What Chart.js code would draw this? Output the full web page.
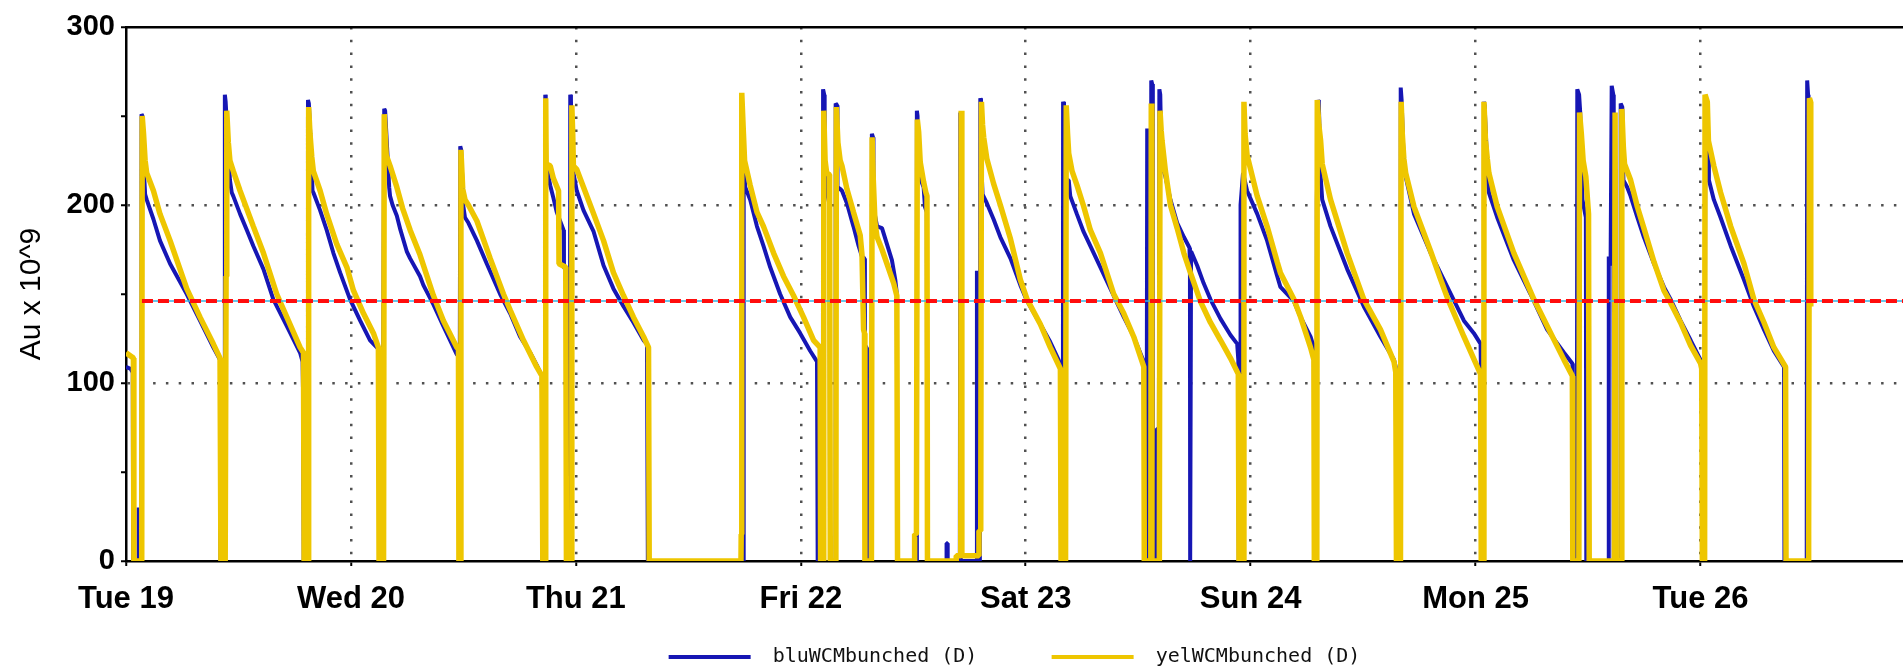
<!DOCTYPE html>
<html>
<head>
<meta charset="utf-8">
<title>WCM bunched intensity</title>
<script src="https://cdn.jsdelivr.net/npm/chart.js@4.4.1/dist/chart.umd.min.js"></script>
<style>
  html, body { margin: 0; padding: 0; background: #fff; }
  canvas { display: block; }
</style>
</head>
<body>
<canvas id="wcm-canvas" width="1903" height="669"></canvas>
<script>
const DAY_LABELS = ['Tue 19', 'Wed 20', 'Thu 21', 'Fri 22', 'Sat 23', 'Sun 24', 'Mon 25', 'Tue 26'];
const SERIES_NAMES = ['bluWCMbunched (D)', 'yelWCMbunched (D)'];
const X_MAX = 7.9;

// [days since Tue 19 00:00, Au x 10^9]
const bluWCM = [
  [0, 109], [0.02, 108], [0.03, 106], [0.032, 0],
  [0.054, 0], [0.055, 30], [0.057, 0],
  [0.068, 0], [0.069, 251], [0.073, 250], [0.08, 218], [0.085, 206], [0.092, 203], [0.122, 192], [0.151, 180], [0.196, 167], [0.27, 150], [0.329, 135], [0.388, 120], [0.418, 113], [0.42, 0],
  [0.438, 0], [0.439, 160], [0.44, 262], [0.443, 258], [0.462, 214], [0.47, 207], [0.477, 205], [0.507, 195], [0.537, 186], [0.566, 177], [0.611, 164], [0.655, 147], [0.715, 132], [0.774, 117], [0.785, 112], [0.787, 96], [0.789, 16], [0.791, 0],
  [0.808, 0], [0.809, 259], [0.813, 257], [0.826, 221], [0.829, 208], [0.833, 207], [0.863, 197], [0.892, 186], [0.922, 173], [0.952, 162], [0.996, 147],
  [1.041, 135], [1.085, 124], [1.115, 120], [1.125, 119], [1.128, 15], [1.14, 15],
  [1.148, 254], [1.152, 253], [1.17, 210], [1.174, 205], [1.185, 200], [1.204, 194], [1.22, 186], [1.248, 174], [1.263, 170], [1.307, 160], [1.322, 155], [1.367, 144], [1.411, 132], [1.471, 116], [1.48, 115], [1.483, 55],
  [1.486, 233], [1.49, 231], [1.5, 199], [1.507, 193], [1.522, 190], [1.56, 180], [1.604, 167], [1.663, 150], [1.708, 139], [1.752, 126], [1.797, 117], [1.826, 110], [1.849, 104], [1.852, 0],
  [1.862, 0], [1.864, 262], [1.866, 260], [1.868, 223], [1.878, 216], [1.886, 211], [1.9, 204], [1.915, 196], [1.945, 186], [1.947, 165], [1.958, 163], [1.96, 0],
  [1.973, 0], [1.975, 262], [1.978, 260], [1.982, 221], [1.989, 218],
  [2.004, 208], [2.034, 197], [2.079, 185], [2.123, 166], [2.167, 153], [2.212, 143], [2.256, 134], [2.301, 124], [2.316, 122], [2.32, 0],
  [2.744, 0], [2.746, 243], [2.748, 219], [2.753, 210], [2.775, 203], [2.805, 188], [2.834, 177], [2.864, 165], [2.908, 150], [2.953, 137],
  [2.997, 128], [3.042, 118], [3.072, 112], [3.075, 0],
  [3.098, 0], [3.099, 265], [3.104, 262], [3.106, 222], [3.117, 215], [3.12, 205], [3.128, 200], [3.13, 0],
  [3.152, 0], [3.155, 257], [3.161, 256], [3.163, 210], [3.175, 209], [3.183, 208], [3.205, 201], [3.234, 188], [3.257, 177], [3.272, 171], [3.283, 170], [3.285, 121], [3.292, 120], [3.294, 0],
  [3.313, 0], [3.316, 240], [3.321, 238], [3.323, 200], [3.33, 194], [3.339, 188], [3.361, 187], [3.383, 178], [3.405, 169], [3.42, 158], [3.427, 150], [3.429, 0],
  [3.514, 0], [3.516, 253], [3.519, 250], [3.521, 225], [3.531, 215], [3.546, 210], [3.552, 199], [3.56, 196], [3.562, 0],
  [3.647, 0], [3.648, 10], [3.652, 10], [3.653, 0],
  [3.707, 0], [3.709, 252], [3.712, 0],
  [3.781, 0], [3.783, 163], [3.785, 0],
  [3.796, 0], [3.798, 260], [3.801, 258], [3.803, 221], [3.808, 206], [3.827, 201], [3.857, 192], [3.887, 182], [3.932, 170], [3.976, 155],
  [4.006, 146], [4.065, 133], [4.109, 123], [4.146, 113], [4.154, 110], [4.157, 0],
  [4.165, 0], [4.166, 258], [4.17, 256], [4.178, 214], [4.191, 214], [4.198, 205], [4.227, 195], [4.257, 185], [4.287, 177], [4.332, 165], [4.391, 149], [4.436, 137], [4.48, 126], [4.525, 112], [4.527, 0],
  [4.536, 0], [4.538, 75], [4.54, 243], [4.542, 54], [4.545, 16], [4.55, 16], [4.552, 0],
  [4.556, 0], [4.558, 270], [4.562, 268], [4.565, 0],
  [4.58, 0], [4.581, 74], [4.592, 74], [4.594, 265], [4.598, 262], [4.602, 235], [4.606, 222], [4.621, 216], [4.643, 203], [4.673, 190], [4.703, 182], [4.728, 176], [4.73, 163], [4.731, 0], [4.733, 0], [4.735, 174], [4.762, 166], [4.791, 156], [4.821, 147], [4.866, 136], [4.91, 127], [4.94, 122], [4.945, 113], [4.947, 0],
  [4.953, 0], [4.955, 200], [4.966, 218], [4.984, 208],
  [5.029, 195], [5.073, 180], [5.118, 160], [5.132, 154], [5.192, 146], [5.222, 137], [5.266, 126], [5.281, 120], [5.283, 0],
  [5.292, 0], [5.294, 202], [5.3, 259], [5.303, 257], [5.311, 216], [5.318, 203], [5.355, 188], [5.429, 164], [5.503, 143], [5.577, 126], [5.637, 113], [5.645, 109], [5.648, 0],
  [5.665, 0], [5.667, 266], [5.671, 259], [5.681, 221], [5.689, 216], [5.726, 195], [5.8, 173], [5.874, 154], [5.948, 135], [5.992, 128],
  [6.022, 122], [6.024, 105], [6.026, 0],
  [6.035, 0], [6.037, 258], [6.04, 256], [6.052, 221], [6.059, 207], [6.096, 193], [6.17, 169], [6.244, 150], [6.318, 130], [6.393, 117], [6.43, 111], [6.432, 103], [6.434, 0],
  [6.45, 0], [6.452, 265], [6.46, 262], [6.465, 252], [6.475, 203], [6.481, 199], [6.49, 193], [6.492, 0],
  [6.59, 0], [6.592, 171], [6.6, 166], [6.605, 267], [6.612, 262], [6.614, 0], [6.643, 0], [6.645, 257], [6.652, 255], [6.657, 214], [6.674, 210], [6.689, 205], [6.719, 193], [6.748, 182], [6.793, 167], [6.837, 154], [6.867, 147], [6.911, 135], [6.956, 124],
  [7.0, 113], [7.007, 111], [7.009, 0],
  [7.018, 0], [7.021, 258], [7.034, 225], [7.037, 214], [7.059, 203], [7.089, 193], [7.134, 177], [7.193, 158], [7.237, 143], [7.282, 130], [7.326, 118], [7.371, 109], [7.373, 0],
  [7.47, 0], [7.472, 17], [7.474, 270], [7.478, 262], [7.48, 149], [7.484, 145],
];

const yelWCM = [
  [0, 117], [0.033, 114], [0.035, 0],
  [0.07, 0], [0.072, 250], [0.078, 240], [0.085, 225], [0.092, 218], [0.122, 208], [0.151, 195], [0.196, 180], [0.27, 153], [0.329, 137], [0.388, 122], [0.418, 114], [0.422, 0],
  [0.441, 0], [0.445, 160], [0.448, 253], [0.455, 235], [0.462, 225], [0.477, 219], [0.507, 208], [0.566, 188], [0.611, 173], [0.67, 150], [0.715, 137], [0.774, 120], [0.789, 117], [0.792, 0],
  [0.81, 0], [0.812, 255], [0.818, 240], [0.826, 227], [0.833, 219], [0.863, 208], [0.892, 195], [0.937, 178], [0.982, 165],
  [1.011, 152], [1.056, 139], [1.1, 128], [1.122, 120], [1.125, 0],
  [1.145, 0], [1.148, 251], [1.157, 228], [1.174, 222], [1.204, 210], [1.23, 198], [1.263, 186], [1.307, 172], [1.367, 149], [1.411, 135], [1.471, 120], [1.478, 119], [1.48, 0],
  [1.487, 0], [1.489, 231], [1.497, 209], [1.507, 203], [1.522, 200], [1.56, 191], [1.619, 170], [1.678, 150], [1.708, 141], [1.767, 124], [1.826, 109], [1.849, 104], [1.853, 0],
  [1.863, 0], [1.866, 260], [1.868, 223], [1.886, 222], [1.9, 215], [1.923, 208], [1.925, 167], [1.955, 165], [1.958, 0],
  [1.979, 0], [1.982, 256], [1.986, 240], [1.989, 222],
  [2.004, 220], [2.034, 210], [2.079, 195], [2.123, 180], [2.167, 162], [2.212, 149], [2.256, 137], [2.301, 126], [2.323, 120], [2.326, 0],
  [2.734, 0], [2.735, 15], [2.737, 15], [2.738, 263], [2.745, 240], [2.75, 225], [2.775, 211], [2.805, 196], [2.834, 188], [2.879, 173], [2.923, 160], [2.968, 149],
  [3.012, 137], [3.057, 124], [3.086, 120], [3.088, 0],
  [3.099, 0], [3.102, 253], [3.108, 225], [3.115, 218], [3.128, 217], [3.131, 0],
  [3.156, 0], [3.158, 255], [3.165, 235], [3.175, 225], [3.183, 222], [3.205, 209], [3.234, 196], [3.264, 183], [3.272, 172], [3.279, 130], [3.283, 128], [3.285, 0],
  [3.314, 0], [3.317, 238], [3.322, 215], [3.33, 190], [3.339, 182], [3.361, 175], [3.383, 167], [3.413, 156], [3.427, 149], [3.43, 0],
  [3.505, 0], [3.506, 15], [3.514, 15], [3.518, 248], [3.524, 241], [3.531, 224], [3.546, 213], [3.556, 207], [3.561, 205], [3.563, 0],
  [3.69, 0], [3.691, 3], [3.711, 3], [3.713, 253], [3.716, 3], [3.79, 3], [3.792, 17], [3.8, 17],
  [3.803, 258], [3.808, 245], [3.813, 238], [3.827, 226], [3.857, 212], [3.887, 200], [3.932, 181], [3.976, 158],
  [4.006, 147], [4.065, 133], [4.109, 120], [4.154, 108], [4.157, 0],
  [4.177, 0], [4.18, 256], [4.186, 240], [4.191, 229], [4.206, 219], [4.228, 211], [4.258, 199], [4.287, 186], [4.332, 173], [4.391, 150], [4.436, 139], [4.48, 126], [4.525, 109], [4.527, 0],
  [4.556, 0], [4.558, 257], [4.561, 0],
  [4.594, 0], [4.597, 253], [4.602, 242], [4.606, 236], [4.621, 219], [4.643, 200], [4.673, 187], [4.703, 173], [4.732, 162], [4.776, 146], [4.821, 134], [4.866, 124], [4.91, 114], [4.945, 105], [4.948, 0],
  [4.968, 0], [4.97, 258], [4.975, 240], [4.984, 228],
  [5.029, 205], [5.073, 188], [5.118, 168], [5.132, 162], [5.192, 147], [5.222, 137], [5.266, 120], [5.281, 113], [5.283, 0],
  [5.294, 0], [5.296, 259], [5.303, 245], [5.311, 236], [5.318, 223], [5.355, 203], [5.429, 173], [5.503, 147], [5.577, 130], [5.637, 112], [5.645, 106], [5.648, 0],
  [5.666, 0], [5.669, 258], [5.674, 240], [5.681, 226], [5.689, 218], [5.726, 199], [5.8, 174], [5.845, 158], [5.874, 148], [5.948, 126],
  [6.022, 105], [6.025, 0],
  [6.034, 0], [6.037, 258], [6.044, 236], [6.052, 226], [6.059, 218], [6.096, 199], [6.17, 173], [6.259, 147], [6.318, 132], [6.393, 113], [6.43, 104], [6.432, 0],
  [6.459, 0], [6.462, 252], [6.47, 240], [6.478, 225], [6.49, 216], [6.502, 195], [6.505, 0],
  [6.617, 0], [6.62, 252], [6.625, 0], [6.647, 0], [6.65, 254], [6.657, 232], [6.662, 223], [6.689, 214], [6.719, 199], [6.748, 187], [6.793, 168], [6.837, 152], [6.867, 145], [6.911, 134], [6.956, 121],
  [7.0, 111], [7.005, 108], [7.008, 0],
  [7.018, 0], [7.02, 262], [7.03, 258], [7.035, 236], [7.059, 222], [7.089, 207], [7.134, 188], [7.193, 167], [7.237, 147], [7.282, 134], [7.326, 120], [7.378, 109], [7.38, 0],
  [7.478, 0], [7.479, 17], [7.482, 17], [7.484, 260], [7.489, 258], [7.49, 143],
];

// reference intensity level (red dashed)
const refLevelDays = [0.071, 7.9];
const refLevelValues = [146, 146];

const toPoints = pairs => pairs.map(([x, y]) => ({ x, y }));
const refPoints = refLevelDays.map((x, i) => ({ x, y: refLevelValues[i] }));

const SANS = "'Liberation Sans', Arial, sans-serif";
const gridDots = [2.5, 10.3];
const transparent = 'rgba(0,0,0,0)';

// spaces only to widen the gaps between legend line, text and the next item
const legendText = index =>
  index === 0 ? ` ${SERIES_NAMES[0]}      ` : ` ${SERIES_NAMES[1]}`;

const config = {
  type: 'line',
  data: {
    datasets: [
      {
        label: SERIES_NAMES[0],
        data: toPoints(bluWCM),
        borderColor: '#1616b4',
        backgroundColor: '#1616b4',
        borderWidth: 4,
        order: 3,
      },
      {
        label: SERIES_NAMES[1],
        data: toPoints(yelWCM),
        borderColor: '#eec600',
        backgroundColor: '#eec600',
        borderWidth: 5.5,
        order: 2,
      },
      {
        label: 'level',
        data: refPoints,
        borderColor: '#33b5e5',
        borderWidth: 1.5,
        order: 1,
      },
      {
        label: 'level dashed',
        data: refPoints,
        borderColor: '#ff0d0d',
        borderWidth: 4,
        borderDash: [11, 5],
        order: 0,
      },
    ],
  },
  options: {
    responsive: false,
    animation: false,
    events: [],
    elements: {
      point: { radius: 0, hoverRadius: 0 },
      line: { tension: 0, borderJoinStyle: 'bevel', borderCapStyle: 'butt', fill: false },
    },
    layout: { padding: { top: 27, right: 0, bottom: -8, left: 0 } },
    plugins: {
      tooltip: { enabled: false },
      legend: {
        position: 'bottom',
        fullSize: false,
        labels: {
          usePointStyle: true,
          pointStyle: 'line',
          pointStyleWidth: 82,
          padding: 2,
          color: '#111',
          font: { family: "'DejaVu Sans Mono', monospace", size: 20 },
          filter: item => item.datasetIndex < SERIES_NAMES.length,
          sort: (a, b) => a.datasetIndex - b.datasetIndex,
          generateLabels: chart =>
            Chart.defaults.plugins.legend.labels.generateLabels(chart).map(item => ({
              ...item,
              text: legendText(item.datasetIndex),
              strokeStyle: chart.data.datasets[item.datasetIndex].borderColor,
              lineWidth: 4,
              lineDash: [],
              pointStyle: 'line',
            })),
        },
      },
    },
    scales: {
      x: {
        type: 'linear',
        position: 'bottom',
        min: 0,
        max: X_MAX,
        afterFit: scale => {
          scale.height = 84;
        },
        ticks: {
          stepSize: 1,
          includeBounds: false,
          autoSkip: false,
          maxRotation: 0,
          padding: 15,
          color: '#000',
          font: { family: SANS, size: 31, weight: 'bold' },
          callback: value => DAY_LABELS[value] ?? '',
        },
        grid: {
          color: ctx => (ctx.tick && ctx.tick.value > 0 ? '#505050' : transparent),
          lineWidth: 2.5,
          tickColor: '#000',
          tickWidth: 2,
          tickLength: 5,
        },
        border: { display: true, color: '#000', width: 2.5, dash: gridDots },
      },
      xTop: {
        type: 'linear',
        position: 'top',
        min: 0,
        max: X_MAX,
        ticks: { display: false },
        grid: { display: false, drawTicks: false },
        border: { display: true, color: '#000', width: 2.5 },
      },
      y: {
        min: 0,
        max: 300,
        afterFit: scale => {
          scale.width = 126;
        },
        ticks: {
          stepSize: 50,
          padding: 6,
          color: '#000',
          font: { family: SANS, size: 29, weight: 'bold' },
          callback: value => (value % 100 === 0 ? String(value) : ''),
        },
        grid: {
          color: ctx => (ctx.tick && (ctx.tick.value === 100 || ctx.tick.value === 200) ? '#505050' : transparent),
          lineWidth: 2.5,
          tickColor: '#000',
          tickWidth: 2,
          tickLength: 5,
        },
        border: { display: true, color: '#000', width: 2.5, dash: gridDots },
        title: {
          display: true,
          text: 'Au x 10^9',
          color: '#000',
          font: { family: SANS, size: 30 },
          padding: { top: 14, bottom: 0 },
        },
      },
    },
  },
};

new Chart('wcm-canvas', config);
</script>
</body>
</html>
